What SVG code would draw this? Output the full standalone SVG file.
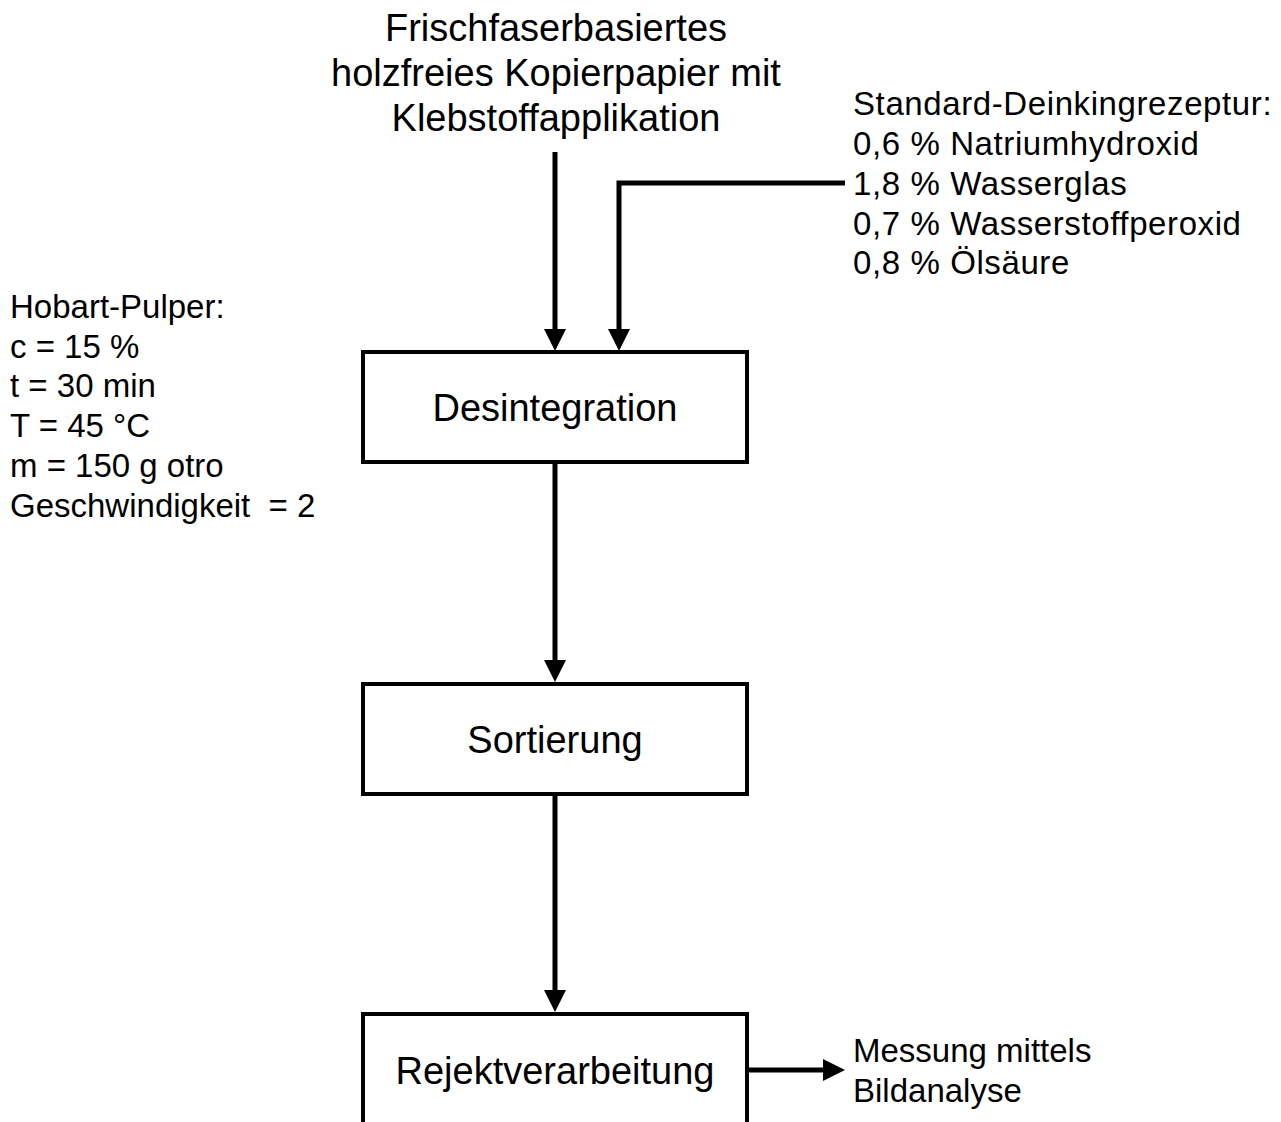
<svg xmlns="http://www.w3.org/2000/svg" width="1281" height="1122" viewBox="0 0 1281 1122">
<defs>
<style>
text{font-family:"Liberation Sans",Arial,sans-serif;fill:#000}
.big{font-size:38px}
.sm{font-size:33px}
.rz{font-size:33px;letter-spacing:0.6px}
.box{fill:#fff;stroke:#000;stroke-width:4}
.ln{fill:none;stroke:#000;stroke-width:5}
</style>
<marker id="ah" markerUnits="userSpaceOnUse" markerWidth="22" markerHeight="22" viewBox="0 0 20 20" refX="10" refY="10" orient="auto">
<path d="M0,0 L20,10 L0,20 z" fill="#000"/>
</marker>
</defs>
<rect width="1281" height="1122" fill="#fff"/>
<g id="connectors">
<line class="ln" x1="555" y1="152" x2="555" y2="340" marker-end="url(#ah)"/>
<polyline class="ln" points="845,183 619,183 619,340" marker-end="url(#ah)"/>
<line class="ln" x1="555" y1="463" x2="555" y2="671" marker-end="url(#ah)"/>
<line class="ln" x1="555" y1="795" x2="555" y2="1001" marker-end="url(#ah)"/>
<line class="ln" x1="748" y1="1070" x2="834" y2="1070" marker-end="url(#ah)"/>
</g>
<g id="input">
<text class="big" x="556" y="41" text-anchor="middle">Frischfaserbasiertes</text>
<text class="big" x="556" y="86" text-anchor="middle">holzfreies Kopierpapier mit</text>
<text class="big" x="556" y="131" text-anchor="middle">Klebstoffapplikation</text>
</g>
<g id="rezeptur">
<text class="rz" x="853" y="115">Standard-Deinkingrezeptur:</text>
<text class="rz" x="853" y="155">0,6 % Natriumhydroxid</text>
<text class="rz" x="853" y="195">1,8 % Wasserglas</text>
<text class="rz" x="853" y="235">0,7 % Wasserstoffperoxid</text>
<text class="rz" x="853" y="274">0,8 % Ölsäure</text>
</g>
<g id="pulper">
<text class="sm" x="10" y="318">Hobart-Pulper:</text>
<text class="sm" x="10" y="358">c = 15 %</text>
<text class="sm" x="10" y="397">t = 30 min</text>
<text class="sm" x="10" y="437">T = 45 °C</text>
<text class="sm" x="10" y="477">m = 150 g otro</text>
<text class="sm" x="10" y="517" xml:space="preserve">Geschwindigkeit  = 2</text>
</g>
<g id="desintegration">
<rect class="box" x="363" y="352" width="384" height="110"/>
<text class="big" x="555" y="421" text-anchor="middle">Desintegration</text>
</g>
<g id="sortierung">
<rect class="box" x="363" y="684" width="384" height="110"/>
<text class="big" x="555" y="753" text-anchor="middle">Sortierung</text>
</g>
<g id="rejektverarbeitung">
<rect class="box" x="363" y="1014" width="384" height="130"/>
<text class="big" x="555" y="1084" text-anchor="middle">Rejektverarbeitung</text>
</g>
<g id="messung">
<text class="sm" x="853" y="1062">Messung mittels</text>
<text class="sm" x="853" y="1102">Bildanalyse</text>
</g>
</svg>
